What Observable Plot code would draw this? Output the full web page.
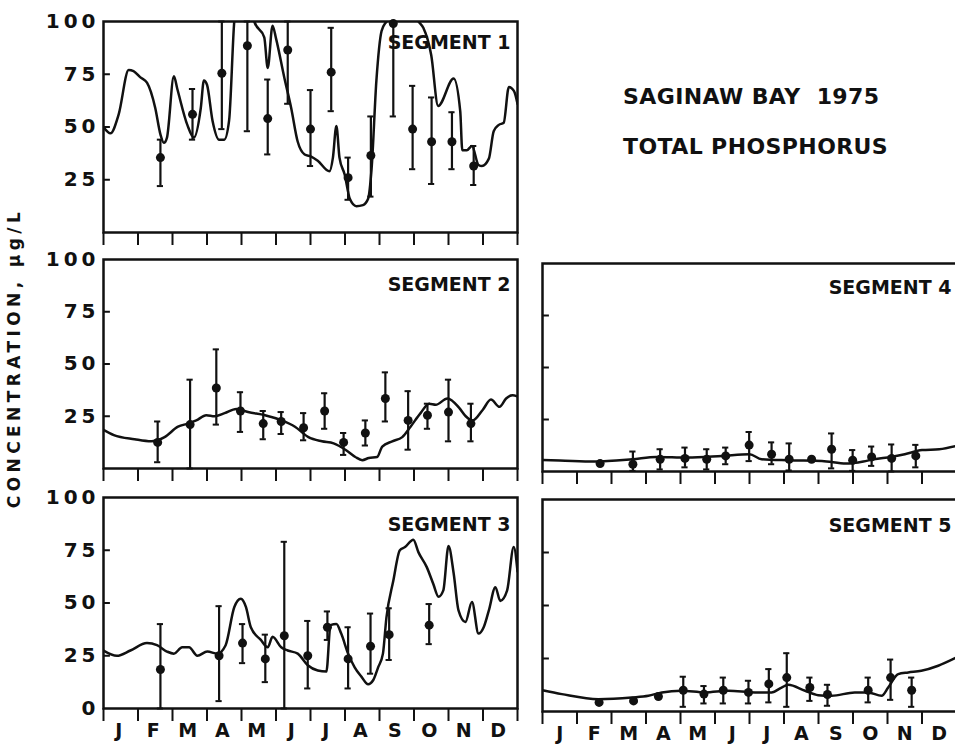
<!DOCTYPE html>
<html>
<head>
<meta charset="utf-8">
<script src="https://cdn.jsdelivr.net/npm/d3@7"></script>
<script src="https://cdn.jsdelivr.net/npm/@observablehq/plot@0.6"></script>
<style>
  html, body { margin: 0; padding: 0; background: #fff; }
  body { width: 955px; height: 748px; overflow: hidden; position: relative; font-family: "DejaVu Sans", sans-serif; color: #111; }
  .panel { position: absolute; }
  .panel g[aria-label="y-axis tick label"] text { letter-spacing: 4px; }
  .title { position: absolute; left: 623px; font-size: 22px; font-weight: bold; letter-spacing: 0.4px; line-height: 22px; white-space: pre; }
  .ylab { position: absolute; left: 14px; top: 358px; transform: translate(-50%, -50%) rotate(-90deg); font-size: 17px; font-weight: bold; letter-spacing: 4.4px; white-space: nowrap; }
</style>
</head>
<body>
<div class="title" style="top:86px">SAGINAW BAY  1975</div>
<div class="title" style="top:136px">TOTAL PHOSPHORUS</div>
<div class="ylab">CONCENTRATION, μg/L</div>
<script>
// Month axis
const months = ["J", "F", "M", "A", "M", "J", "J", "A", "S", "O", "N", "D"];
const monthEdges = [0, 1, 2, 3, 4, 5, 6, 7, 8, 9, 10, 11, 12];
const monthMids = [0.5, 1.5, 2.5, 3.5, 4.5, 5.5, 6.5, 7.5, 8.5, 9.5, 10.5, 11.5];
const yTicksLabelled = [25, 50, 75, 100];
const yTicksWithZero = [0, 25, 50, 75, 100];
const innerTicks = [25, 50, 75];

// Model curves: [month, total phosphorus µg/L]
const seg1Model = [[0,50],[0.2,47],[0.44,56],[0.73,77],[0.87,76.5],[1.07,73.5],[1.26,71],[1.5,59],[1.65,46.5],[1.75,42.5],[1.84,45],[2.04,74],[2.14,68],[2.43,51],[2.62,45],[2.82,59],[2.91,72],[3.0,70],[3.16,53],[3.35,44],[3.5,44],[3.64,53],[3.79,100],[3.95,116],[4.2,112],[4.37,100],[4.66,92.5],[4.76,78],[4.9,98],[5.0,92],[5.24,73.5],[5.44,59],[5.63,43],[5.83,37],[6.02,36],[6.21,34],[6.55,29],[6.65,35.5],[6.75,50.5],[6.84,35.5],[6.99,27.5],[7.14,16],[7.33,12.5],[7.52,13],[7.67,16],[7.77,30],[7.91,72],[8.06,95.5],[8.2,100],[8.5,106],[8.9,106],[9.13,100],[9.27,97],[9.5,84],[9.7,60],[10.15,73],[10.34,57.5],[10.4,39],[10.53,39],[10.68,41],[10.87,32],[10.97,31.5],[11.17,35],[11.31,48],[11.46,51],[11.6,52],[11.75,69],[11.9,67],[12,61]];
const seg2Model = [[0,18.5],[0.3,16],[0.9,14],[1.38,13],[1.77,15],[2.16,20],[2.45,21.5],[2.69,23],[2.98,25.5],[3.22,25],[3.51,26.5],[3.85,28.5],[4.19,27],[4.68,25.5],[5.17,23],[5.55,20],[5.94,15],[6.33,13],[6.67,12],[7.01,9],[7.3,5.5],[7.5,4],[7.69,5],[7.93,5.5],[8.08,10.5],[8.37,13],[8.66,15],[8.9,20],[9.19,26.5],[9.44,31],[9.63,30.5],[9.97,33.5],[10.31,29],[10.5,25],[10.7,23],[10.99,28],[11.23,33],[11.48,29.5],[11.67,33.5],[11.86,35],[12,34.5]];
const seg3Model = [[0,27.5],[0.39,25],[0.78,27.5],[1.26,31],[1.55,30],[1.84,27],[2.04,26],[2.28,29],[2.48,29],[2.72,25],[3.01,27],[3.3,26],[3.54,30],[3.79,48],[3.98,52],[4.13,48],[4.27,38.5],[4.56,32.5],[4.76,29],[4.9,34],[5.15,29],[5.34,27.5],[5.63,26],[5.92,20.5],[6.21,18],[6.46,17.5],[6.58,39.5],[6.75,40],[6.89,35.5],[7.09,26],[7.28,19.5],[7.48,15],[7.67,11.5],[7.82,13.5],[7.96,19.5],[8.1,26],[8.2,43],[8.4,60.5],[8.59,75],[8.74,76.5],[8.98,80],[9.13,74],[9.37,67],[9.56,59],[9.71,53],[9.85,56],[10.0,77],[10.15,64],[10.29,46.5],[10.49,41],[10.68,50.5],[10.87,35.5],[11.02,38.5],[11.17,46.5],[11.36,57.5],[11.5,51],[11.7,56],[11.89,76.5],[12,65]];
const seg4Model = [[0,5.5],[0.5,5.3],[1.5,4.8],[2.6,5.9],[3.3,7],[4.2,6.7],[5.2,7.5],[6.0,8.3],[6.35,5.9],[7.1,5.4],[8.1,5.1],[8.8,3.8],[9.3,4.8],[9.6,5.9],[10.1,7],[10.5,8.3],[11.0,10.3],[11.5,10.7],[12,12.3]];
const seg5Model = [[0,10],[0.56,8.2],[1.62,5.8],[2.59,6.6],[3.07,7.4],[3.46,9],[4.03,9.8],[4.71,9],[5.39,9.8],[6.16,9],[6.64,9],[6.93,11.3],[7.12,12.6],[7.61,9.8],[7.99,7.7],[8.38,7.4],[9.05,9],[9.44,9],[9.83,7.4],[10.02,11.3],[10.31,17.6],[10.6,18.4],[10.98,19.2],[11.47,21.6],[12,25.5]];

// Observations: [month, mean, low, high]
const seg1Obs = [[1.65,35.5,22,44],[2.58,56,44,68],[3.43,75.5,49,100],[4.17,88.5,48,100],[4.76,54,37,72.5],[5.34,86.5,61,100],[6.0,49,31.5,67.5],[6.6,76,57.5,97],[7.09,26,15.5,35.5],[7.75,36.5,17,55],[8.4,99,55,100],[8.96,49,30,69.5],[9.51,43,23,64],[10.1,43,30,57],[10.73,31.5,22.5,41]];
const seg2Obs = [[1.57,12.5,3,22.5],[2.51,21,0,42.5],[3.27,38.5,21,57],[3.97,27.5,17.5,36.5],[4.63,21.5,14,27.5],[5.15,22.5,16.5,27],[5.8,19.5,13.5,26.5],[6.41,27.5,19,36],[6.96,12.5,6.5,17],[7.59,17,11,23],[8.17,33.5,22.5,46],[8.83,23,9,37],[9.39,25.5,19,31],[10,27,13,42.5],[10.65,21.5,13,31]];
const seg3Obs = [[1.65,18.5,0,40],[3.35,25,3.5,48.5],[4.03,31,21.5,40],[4.69,23.5,12.5,35],[5.24,34.5,0,79],[5.92,25,9.5,41.5],[6.49,38.5,32.5,46],[7.09,23.5,9.5,38.5],[7.74,29.5,16.5,45],[8.28,35,23,47.5],[9.44,39.5,30.5,49.5]];
const seg4Obs = [[1.67,3.8,null,null],[2.62,3.5,0.3,9.6],[3.41,5.9,1,10.7],[4.13,6.3,2,11.5],[4.76,5.9,1,10.7],[5.31,7.5,3.5,11.5],[5.99,12.7,5,19],[6.64,8.3,3.5,14],[7.15,5.9,0.5,13.5],[7.8,5.9,null,null],[8.38,10.7,1.5,18.3],[8.99,5.4,0.3,10.3],[9.54,7,2.7,12],[10.12,6.3,0,13],[10.82,7.5,2,12.8]];
const seg5Obs = [[1.64,4.3,null,null],[2.64,5,null,null],[3.36,7.1,null,null],[4.08,10,2.2,16.4],[4.68,8.2,3.8,12],[5.24,10,3.8,16],[5.97,9,3.8,14.5],[6.56,13,4.3,20],[7.08,16,2.2,27.5],[7.75,11.3,5,16],[8.26,8,2.7,12.6],[9.44,10,4.3,16],[10.09,16,5.5,24.5],[10.7,10,2.2,16]];

const INK = "#111";

function toLine(rows) { return rows.map(([m, v]) => ({m, v})); }
function toObs(rows) { return rows.map(([m, v, lo, hi]) => ({m, v, lo, hi})); }

function panel(cfg) {
  const mt = 24, mb = 46;
  const obs = toObs(cfg.obs);
  const bars = obs.filter(d => d.lo != null);
  const marks = [
    Plot.frame({stroke: INK, strokeWidth: 2.5}),
    Plot.ruleY(innerTicks, {y: d => d, x1: 0, x2: 0.2, stroke: INK, strokeWidth: 2}),
    Plot.axisX(monthEdges, {tickSize: 13, tickFormat: () => "", stroke: INK, strokeWidth: 2}),
    Plot.line(toLine(cfg.model), {x: "m", y: "v", curve: "monotone-x", stroke: INK, strokeWidth: 2.5, clip: true}),
    Plot.ruleX(bars, {x: "m", y1: "lo", y2: "hi", stroke: INK, strokeWidth: 2.2}),
    Plot.ruleY(bars, {y: "lo", x1: d => d.m - 0.09, x2: d => d.m + 0.09, stroke: INK, strokeWidth: 2}),
    Plot.ruleY(bars, {y: "hi", x1: d => d.m - 0.09, x2: d => d.m + 0.09, stroke: INK, strokeWidth: 2}),
    Plot.dot(obs, {x: "m", y: "v", r: 4.5, fill: INK}),
    Plot.text([cfg.label], {text: d => d, frameAnchor: "top-right", lineAnchor: "top", dx: cfg.labelDx, dy: cfg.labelDy, fontSize: 19, fontWeight: "bold", fill: INK})
  ];
  if (cfg.yLabels) {
    marks.push(Plot.axisY(cfg.yLabels, {tickSize: 0, tickPadding: 4, fontSize: 20, fontWeight: "bold", fill: INK}));
  }
  if (cfg.months) {
    marks.push(Plot.axisX(monthMids, {tickSize: 0, tickPadding: 15, tickFormat: d => months[Math.floor(d)], fontSize: 19, fontWeight: "bold", fill: INK, dx: cfg.monthDx || 0}));
  }
  const chart = Plot.plot({
    width: cfg.width,
    height: (cfg.bottom - cfg.top) + mt + mb,
    marginTop: mt,
    marginBottom: mb,
    marginLeft: cfg.marginLeft,
    marginRight: cfg.marginRight,
    style: {background: "transparent", overflow: "visible", maxWidth: "none", fontFamily: "DejaVu Sans, sans-serif", color: INK},
    x: {domain: [0, 12], label: null},
    y: {domain: [0, 100], label: null, axis: cfg.yLabels ? undefined : null},
    marks
  });
  const div = document.createElement("div");
  div.className = "panel";
  div.style.left = cfg.left + "px";
  div.style.top = (cfg.top - mt) + "px";
  div.style.width = cfg.width + "px";
  div.appendChild(chart);
  document.body.appendChild(div);
}

const leftCol = {left: 0, width: 520, marginLeft: 103, marginRight: 3, labelDx: -7};
const rightCol = {left: 520, width: 437, marginLeft: 22, marginRight: 1, labelDx: -5};

panel({...leftCol, top: 21, bottom: 232, model: seg1Model, obs: seg1Obs, label: "SEGMENT 1", labelDy: 14, yLabels: yTicksLabelled});
panel({...leftCol, top: 259, bottom: 468, model: seg2Model, obs: seg2Obs, label: "SEGMENT 2", labelDy: 18, yLabels: yTicksLabelled});
panel({...leftCol, top: 497, bottom: 708, model: seg3Model, obs: seg3Obs, label: "SEGMENT 3", labelDy: 20, yLabels: yTicksWithZero, months: true, monthDx: -2});
panel({...rightCol, top: 263, bottom: 471, model: seg4Model, obs: seg4Obs, label: "SEGMENT 4", labelDy: 17});
panel({...rightCol, top: 499, bottom: 711, model: seg5Model, obs: seg5Obs, label: "SEGMENT 5", labelDy: 19, months: true});
</script>
</body>
</html>
